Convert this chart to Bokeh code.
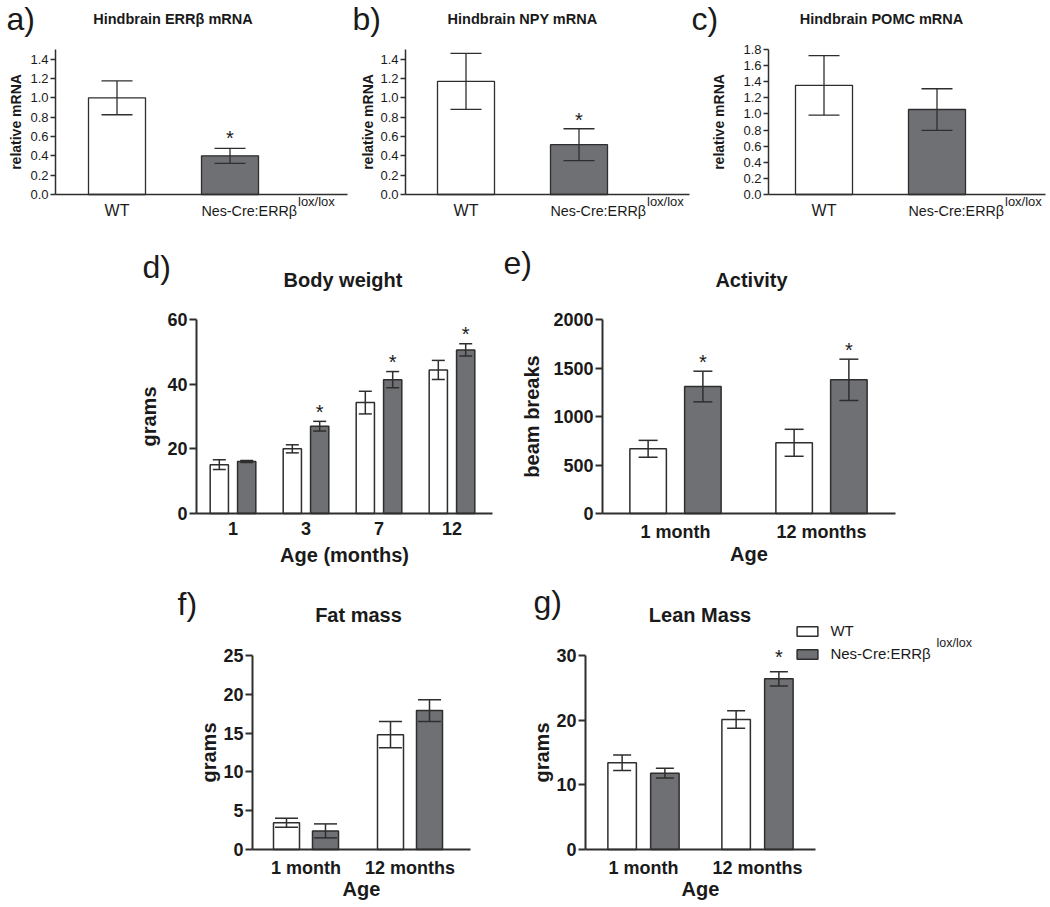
import math
import numpy as np
from bokeh.plotting import figure
from bokeh.layouts import row, column
from bokeh.models import (Range1d, FixedTicker, PrintfTickFormatter, Label,
                          ColumnDataSource, Legend, LegendItem)
from bokeh.core.properties import value
from bokeh.embed import file_html
from bokeh.resources import INLINE

# ------------------------------------------------------------------ data
mrna_groups = ["WT", "Nes-Cre:ERRβ"]
mrna_sup = "lox/lox"

a_title = "Hindbrain ERRβ mRNA"
a_mean = [1.00, 0.40]
a_sem = [0.175, 0.078]
a_sig = [0, 1]

b_title = "Hindbrain NPY mRNA"
b_mean = [1.17, 0.515]
b_sem = [0.29, 0.165]
b_sig = [0, 1]

c_title = "Hindbrain POMC mRNA"
c_mean = [1.355, 1.055]
c_sem = [0.37, 0.258]
c_sig = [0, 0]

mrna_yticks = [0.0, 0.2, 0.4, 0.6, 0.8, 1.0, 1.2, 1.4]
c_yticks = [0.0, 0.2, 0.4, 0.6, 0.8, 1.0, 1.2, 1.4, 1.6, 1.8]

d_title = "Body weight"
d_ages = ["1", "3", "7", "12"]
d_wt = [15.1, 20.0, 34.3, 44.4]
d_wt_sem = [1.5, 1.25, 3.5, 2.95]
d_ko = [16.1, 27.0, 41.4, 50.6]
d_ko_sem = [0.3, 1.5, 2.5, 1.9]
d_sig = [0, 1, 1, 1]
d_yticks = [0, 20, 40, 60]

e_title = "Activity"
e_ages = ["1 month", "12 months"]
e_wt = [667, 729]
e_wt_sem = [87, 139]
e_ko = [1309, 1378]
e_ko_sem = [158, 213]
e_sig = [1, 1]
e_yticks = [0, 500, 1000, 1500, 2000]

f_title = "Fat mass"
f_ages = ["1 month", "12 months"]
f_wt = [3.45, 14.8]
f_wt_sem = [0.58, 1.7]
f_ko = [2.4, 17.9]
f_ko_sem = [0.9, 1.4]
f_sig = [0, 0]
f_yticks = [0, 5, 10, 15, 20, 25]

g_title = "Lean Mass"
g_ages = ["1 month", "12 months"]
g_wt = [13.4, 20.1]
g_wt_sem = [1.2, 1.35]
g_ko = [11.8, 26.4]
g_ko_sem = [0.75, 1.1]
g_sig = [0, 1]
g_yticks = [0, 10, 20, 30]

legend_labels = ["WT", "Nes-Cre:ERRβ"]

# ------------------------------------------------------------------ style
FONT = "Liberation Sans"
INK = "#1a1a1a"
EDGE = "#2e2e2e"
GREY = "#6f7074"
STAR_FS = 20
BASE_SHIFT = 0.42   # Label 'alphabetic' anchor sits this many em above the drawn baseline
STAR_MID = 0.555    # visual centre of '*' above its baseline, in em


class Panel:
    """A figure whose frame is its whole canvas; the axes sit at fixed
    data locations so that every text can live inside the frame."""

    def __init__(self, fig_box, frame_box, first_center, spacing, y_end):
        fl, ft, fr, fb = fig_box
        L, T, R, B = frame_box
        self.L, self.T, self.R, self.B = L, T, R, B
        self.spacing = spacing
        self.y_end = y_end
        self.x0 = -(first_center - L) / spacing
        self.spp = (B - T) / y_end
        self.p = figure(width=fr - fl, height=fb - ft, min_border=0,
                        x_range=Range1d(self.fx(fl), self.fx(fr)),
                        y_range=Range1d(self.fy(fb), self.fy(ft)),
                        output_backend="svg", toolbar_location=None, title=None)
        p = self.p
        p.xgrid.visible = False
        p.ygrid.visible = False
        p.outline_line_color = None
        p.background_fill_color = "white"
        p.border_fill_color = "white"

    def fx(self, px):
        return self.x0 + (px - self.L) / self.spacing

    def fy(self, py):
        return (self.B - py) / self.spp

    def text(self, x, y, txt, size, bold=False, align="left",
             baseline="alphabetic", angle=0.0):
        if baseline == "alphabetic" and angle == 0.0:
            y = y + BASE_SHIFT * size / self.spp
        self.p.add_layout(Label(x=x, y=y, text=txt, text_font=FONT,
                                text_font_size=f"{size}px",
                                text_font_style="bold" if bold else "normal",
                                text_color=INK, text_align=align,
                                text_baseline=baseline, angle=angle))

    def axes(self, yticks, tick_fs, bold, tick_out, axis_w, fmt=None,
             xticks=None, xlabels=None, x_standoff=8):
        p = self.p
        for ax in (p.xaxis[0], p.yaxis[0]):
            ax.axis_line_color = EDGE
            ax.axis_line_width = axis_w
            ax.major_tick_line_color = EDGE
            ax.major_tick_line_width = axis_w
            ax.minor_tick_line_color = None
            ax.major_tick_in = 0
            ax.minor_tick_in = 0
            ax.minor_tick_out = 0
            ax.major_label_text_font = FONT
            ax.major_label_text_font_size = f"{tick_fs}px"
            ax.major_label_text_font_style = "bold" if bold else "normal"
            ax.major_label_text_color = INK
        yax = p.yaxis[0]
        yax.ticker = FixedTicker(ticks=yticks, minor_ticks=[])
        yax.major_tick_out = tick_out
        yax.major_label_standoff = 2
        yax.fixed_location = self.fx(self.L)
        yax.bounds = (0, self.y_end)
        if fmt:
            yax.formatter = PrintfTickFormatter(format=fmt)
        xax = p.xaxis[0]
        if xticks is None:
            xax.ticker = FixedTicker(ticks=[], minor_ticks=[])
        else:
            xax.ticker = FixedTicker(ticks=xticks, minor_ticks=[])
            xax.major_label_overrides = {t: l for t, l in zip(xticks, xlabels)}
        xax.major_tick_out = 0
        xax.major_label_standoff = x_standoff
        xax.fixed_location = 0
        xax.bounds = (self.fx(self.L), self.fx(self.R))

    def errorbars(self, src, lw):
        p = self.p
        p.segment(x0="x", y0="lo", x1="x", y1="hi", source=src,
                  line_color=EDGE, line_width=lw)
        p.segment(x0="cl", y0="hi", x1="cr", y1="hi", source=src,
                  line_color=EDGE, line_width=lw)
        p.segment(x0="cl", y0="lo", x1="cr", y1="lo", source=src,
                  line_color=EDGE, line_width=lw)

    def star(self, x, top, star_px):
        y = top + (star_px - STAR_MID * STAR_FS) / self.spp
        self.text(x, y, "*", STAR_FS, align="center")


def err_source(x, mean, sem, cap_units, **extra):
    x = np.asarray(x, float)
    m = np.asarray(mean, float)
    s = np.asarray(sem, float)
    d = dict(x=x, top=m, lo=m - s, hi=m + s,
             cl=x - cap_units / 2, cr=x + cap_units / 2)
    d.update(extra)
    return ColumnDataSource(d)


def mrna_panel(fig_box, frame_box, first_center, y_end, yticks, means, sems,
               sig, title, title_cx, letter, letter_x, ylab_cx, star_px):
    P = Panel(fig_box, frame_box, first_center, 113, y_end)
    P.axes(yticks, 13, False, 5, 1.5, fmt="%.1f")
    idx = np.arange(len(means), dtype=float)
    src = err_source(idx, means, sems, 31 / 113, fill=["white", GREY])
    P.p.vbar(x="x", top="top", bottom=0, width=57 / 113, source=src,
             fill_color="fill", line_color=EDGE, line_width=1.3)
    P.errorbars(src, 1.3)
    for i in range(len(means)):
        if sig[i]:
            P.star(idx[i], means[i] + sems[i], star_px)
    # category labels
    P.text(idx[0], P.fy(217), mrna_groups[0], 16, align="center")
    P.text(idx[1] + 67 / 113, P.fy(217), mrna_groups[1], 14.3, align="right")
    P.text(idx[1] + 68 / 113, P.fy(206), mrna_sup, 13, align="left")
    # titles, letter, axis title
    P.text(P.fx(title_cx), P.fy(25), title, 14.5, bold=True, align="center")
    P.text(P.fx(letter_x), P.fy(32), letter, 32)
    P.text(P.fx(ylab_cx), y_end / 2, "relative mRNA", 14, bold=True,
           align="center", baseline="middle", angle=math.pi / 2)
    return P


def group_panel(fig_box, frame_box, first_center, spacing, y_end, yticks,
                labels, wt, wt_sem, ko, ko_sem, sig, cap_px, star_px,
                title, title_cx, title_bl, letter, letter_x, letter_bl,
                ylab, ylab_cx, xlab, xlab_bl):
    P = Panel(fig_box, frame_box, first_center, spacing, y_end)
    n = len(wt)
    idx = np.arange(n, dtype=float)
    P.axes(yticks, 18, True, 7, 2, xticks=list(range(n)), xlabels=labels,
           x_standoff=8)
    cap = cap_px / spacing
    rs = []
    for xs_, m, s, fill in ((idx - 0.1875, wt, wt_sem, "white"),
                            (idx + 0.1875, ko, ko_sem, GREY)):
        src = err_source(xs_, m, s, cap)
        r = P.p.vbar(x="x", top="top", bottom=0, width=0.25, source=src,
                     fill_color=fill, line_color=EDGE, line_width=1.5)
        P.errorbars(src, 1.5)
        rs.append(r)
    for i in range(n):
        if sig[i]:
            P.star(idx[i] + 0.1875, ko[i] + ko_sem[i], star_px)
    P.text(P.fx(title_cx), P.fy(title_bl), title, 20, bold=True, align="center")
    P.text(P.fx(letter_x), P.fy(letter_bl), letter, 32)
    P.text(P.fx(ylab_cx), y_end / 2, ylab, 20, bold=True, align="center",
           baseline="middle", angle=math.pi / 2)
    P.text(P.fx((P.L + P.R) / 2), P.fy(xlab_bl), xlab, 20, bold=True,
           align="center")
    return P, rs


# ------------------------------------------------------------------ panels
pa = mrna_panel((0, 0, 350, 228), (55, 49, 347, 194), 116.5, 1.5, mrna_yticks,
                a_mean, a_sem, a_sig, a_title, 172.5, "a)", 6, 15.5, 13)
pb = mrna_panel((350, 0, 690, 228), (405, 49, 689, 194), 465.5, 1.5, mrna_yticks,
                b_mean, b_sem, b_sig, b_title, 522, "b)", 352, 367, 11)
pc = mrna_panel((690, 0, 1050, 228), (768, 49, 1045, 194), 823.5, 1.8, c_yticks,
                c_mean, c_sem, c_sig, c_title, 881, "c)", 691, 718, 12)

pd, _ = group_panel((0, 228, 500, 578), (196, 319, 492, 513), 232.5, 73, 60,
                    d_yticks, d_ages, d_wt, d_wt_sem, d_ko, d_ko_sem, d_sig,
                    13, 12, d_title, 342.5, 288, "d)", 142, 280,
                    "grams", 148, "Age (months)", 563)
pe, _ = group_panel((500, 228, 1050, 578), (602, 319, 895, 513), 675, 146, 2000,
                    e_yticks, e_ages, e_wt, e_wt_sem, e_ko, e_ko_sem, e_sig,
                    19, 12, e_title, 751, 288, "e)", 503, 276,
                    "beam breaks", 531, "Age", 562)
pf, _ = group_panel((0, 578, 520, 907), (252, 655, 470, 849), 305.5, 104, 25,
                    f_yticks, f_ages, f_wt, f_wt_sem, f_ko, f_ko_sem, f_sig,
                    23, 12, f_title, 358, 623, "f)", 177, 617,
                    "grams", 208, "Age", 897)
pg, g_rs = group_panel((520, 578, 1050, 907), (585, 655, 815, 849), 643, 114, 30,
                       g_yticks, g_ages, g_wt, g_wt_sem, g_ko, g_ko_sem, g_sig,
                       18, 17, g_title, 699.5, 623, "g)", 533, 615,
                       "grams", 541.5, "Age", 897)

# legend (in panel g); location is the legend's lower-left corner,
# measured from the frame's lower left (frame == canvas here)
LEG_TOP, LEG_ITEM_H, LEG_SPACING = 620.5, 20, 3
leg_h = 2 * LEG_ITEM_H + LEG_SPACING
legend = Legend(items=[LegendItem(label=value(legend_labels[0]), renderers=[g_rs[0]]),
                       LegendItem(label=value(legend_labels[1]), renderers=[g_rs[1]])],
                location=(794.4 - 520, 907 - (LEG_TOP + leg_h)),
                orientation="vertical", glyph_width=26, glyph_height=12,
                label_standoff=10, label_text_font=FONT,
                label_text_font_size="15px", label_text_color=INK,
                label_height=LEG_ITEM_H, spacing=LEG_SPACING, padding=0, margin=0,
                border_line_color=None, background_fill_alpha=0)
pg.p.add_layout(legend)
pg.text(pg.fx(936), pg.fy(648), mrna_sup, 12.5)

layout = column(row(pa.p, pb.p, pc.p),
                row(pd.p, pe.p),
                row(pf.p, pg.p))

open("out.html", "w").write(file_html(layout, INLINE))
